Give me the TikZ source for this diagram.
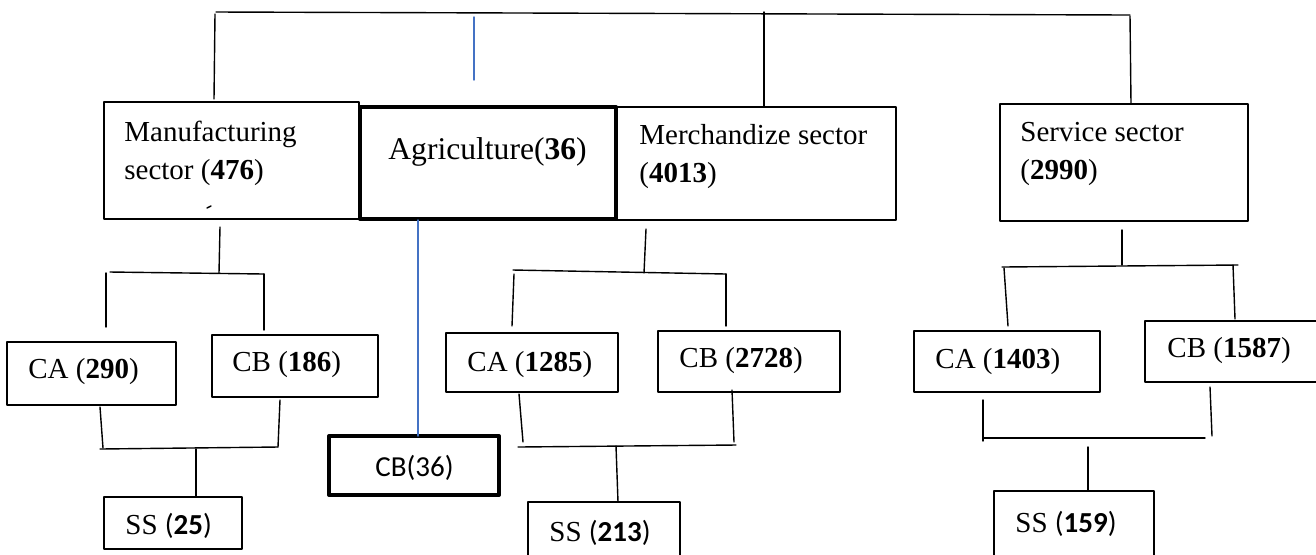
\documentclass[tikz,border=0pt]{standalone}
\usepackage{fontspec}
\setmainfont{Liberation Serif}
\newfontfamily\calib{Carlito}
\usepackage{tikz}
\usetikzlibrary{fit}
\definecolor{wordblue}{RGB}{68,114,196}

\begin{document}
\begin{tikzpicture}[line cap=round,line join=round,x=0.5pt,y=-0.5pt,
    box/.style={draw, line width=0.7pt, inner sep=0pt},
    heavybox/.style={draw, line width=2pt, inner sep=0pt},
    lbl/.style={anchor=base west, inner sep=0pt, align=left, font=\fontsize{14.5}{19}\selectfont},
    wire/.style={line width=0.7pt},
    bluewire/.style={line width=0.7pt, draw=wordblue}]
    \clip (0,0) rectangle (1316,554);

    % sectors (two-line labels sit on their last baseline)
    \node[box, fit={(104,102) (359,219)}] (mfg) {};
    \node[heavybox, fit={(360,107) (616,219)}] (agr) {};
    \node[box, fit={(616,107) (896,220)}] (mer) {};
    \node[box, fit={(1000,104) (1248,221)}] (ser) {};
    \node[lbl] (mfgt) at (124,179) {Manufacturing\\sector (\textbf{476})};
    \node[lbl, font=\fontsize{15.8}{19}\selectfont] (agrt) at (388,159) {Agriculture(\textbf{36})};
    \node[lbl] (mert) at (639,182) {Merchandize sector\\(\textbf{4013})};
    \node[lbl] (sert) at (1020,179) {Service sector\\(\textbf{2990})};
    \draw[wire] (207,208) -- (211,206);

    % second row
    \node[box, fit={(7,342) (176,405)}] (mca) {};
    \node[box, fit={(212,335) (378,397)}] (mcb) {};
    \node[box, fit={(446,333) (618,392)}] (rca) {};
    \node[box, fit={(658,331) (840,392)}] (rcb) {};
    \node[box, fit={(914,331) (1100,392)}] (sca) {};
    \node[box, fit={(1145,321) (1320,382)}] (scb) {};
    \node[lbl] (mcat) at (28,378) {CA (\textbf{290})};
    \node[lbl] (mcbt) at (232,371) {CB (\textbf{186})};
    \node[lbl] (rcat) at (467,371) {CA (\textbf{1285})};
    \node[lbl] (rcbt) at (679,367) {CB (\textbf{2728})};
    \node[lbl] (scat) at (935,368) {CA (\textbf{1403})};
    \node[lbl] (scbt) at (1167,357) {CB (\textbf{1587})};

    % bottom row
    \node[box, fit={(104,497) (242,549)}] (mss) {};
    \node[heavybox, fit={(329,436) (499,495)}] (acb) {};
    \node[box, fit={(528,502) (680,562)}] (rss) {};
    \node[box, fit={(994,491) (1154,562)}] (sss) {};
    \node[lbl] (msst) at (125,534) {SS {\calib(\textbf{25})}};
    \node[lbl] (acbt) at (375,476) {\calib CB(36)};
    \node[lbl] (rsst) at (549,541) {SS {\calib(\textbf{213})}};
    \node[lbl] (ssst) at (1015,532) {SS {\calib(\textbf{159})}};

    % top bar
    \coordinate (t0) at (216,12); \coordinate (t9) at (1130,15);
    \coordinate (t1) at (215,14); \coordinate (t2) at (214,99);
    \coordinate (t3) at (764,12); \coordinate (t4) at (764,107);
    \coordinate (t5) at (1130,16); \coordinate (t6) at (1131,104);
    \coordinate (b1) at (474,17); \coordinate (b2) at (474,80);
    \draw[wire] (t0) -- (t9);
    \draw[wire] (t1) -- (t2);
    \draw[wire] (t3) -- (t4);
    \draw[wire] (t5) -- (t6);
    \draw[bluewire] (b1) -- (b2);

    % manufacturing
    \coordinate (m1) at (220,227); \coordinate (m2) at (219,273);
    \coordinate (m3) at (110,272); \coordinate (m4) at (264,274);
    \coordinate (m5) at (106,273); \coordinate (m6) at (106,327);
    \coordinate (m7) at (264,330);
    \coordinate (m8) at (100,407); \coordinate (m9) at (103,448);
    \coordinate (m10) at (280,400); \coordinate (m11) at (278,447);
    \coordinate (m12) at (100,449); \coordinate (m13) at (196,449);
    \coordinate (m14) at (196,497);
    \draw[wire] (m1) -- (m2);
    \draw[wire] (m3) -- (m4);
    \draw[wire] (m5) -- (m6);
    \draw[wire] (m4) -- (m7);
    \draw[wire] (m8) -- (m9);
    \draw[wire] (m10) -- (m11);
    \draw[wire] (m12) -- (m11);
    \draw[wire] (m13) -- (m14);

    % agriculture
    \coordinate (a1) at (418,220); \coordinate (a2) at (418,436);
    \draw[bluewire] (a1) -- (a2);

    % merchandize
    \coordinate (r1) at (646,229); \coordinate (r2) at (644,273);
    \coordinate (r3) at (513,270); \coordinate (r4) at (726,274);
    \coordinate (r5) at (514,274); \coordinate (r6) at (512,326);
    \coordinate (r7) at (726,326);
    \coordinate (r8) at (519,394); \coordinate (r9) at (523,442);
    \coordinate (r10) at (732,390); \coordinate (r11) at (734,442);
    \coordinate (r12) at (518,447); \coordinate (r13) at (736,445);
    \coordinate (r14) at (616,446); \coordinate (r15) at (618,502);
    \draw[wire] (r1) -- (r2);
    \draw[wire] (r3) -- (r4);
    \draw[wire] (r5) -- (r6);
    \draw[wire] (r4) -- (r7);
    \draw[wire] (r8) -- (r9);
    \draw[wire] (r10) -- (r11);
    \draw[wire] (r12) -- (r13);
    \draw[wire] (r14) -- (r15);

    % service
    \coordinate (s1) at (1122,230); \coordinate (s2) at (1122,265);
    \coordinate (s3) at (1002,267); \coordinate (s4) at (1238,265);
    \coordinate (s5) at (1004,268); \coordinate (s6) at (1008,326);
    \coordinate (s7) at (1233,265); \coordinate (s8) at (1235,319);
    \coordinate (s9) at (983,400); \coordinate (s10) at (983,441);
    \coordinate (s11) at (1210,387); \coordinate (s12) at (1212,436);
    \coordinate (s13) at (983,438); \coordinate (s14) at (1205,438);
    \coordinate (s15) at (1088,447); \coordinate (s16) at (1088,491);
    \draw[wire] (s1) -- (s2);
    \draw[wire] (s3) -- (s4);
    \draw[wire] (s5) -- (s6);
    \draw[wire] (s7) -- (s8);
    \draw[wire] (s9) -- (s10);
    \draw[wire] (s11) -- (s12);
    \draw[wire] (s13) -- (s14);
    \draw[wire] (s15) -- (s16);
\end{tikzpicture}
\end{document}
